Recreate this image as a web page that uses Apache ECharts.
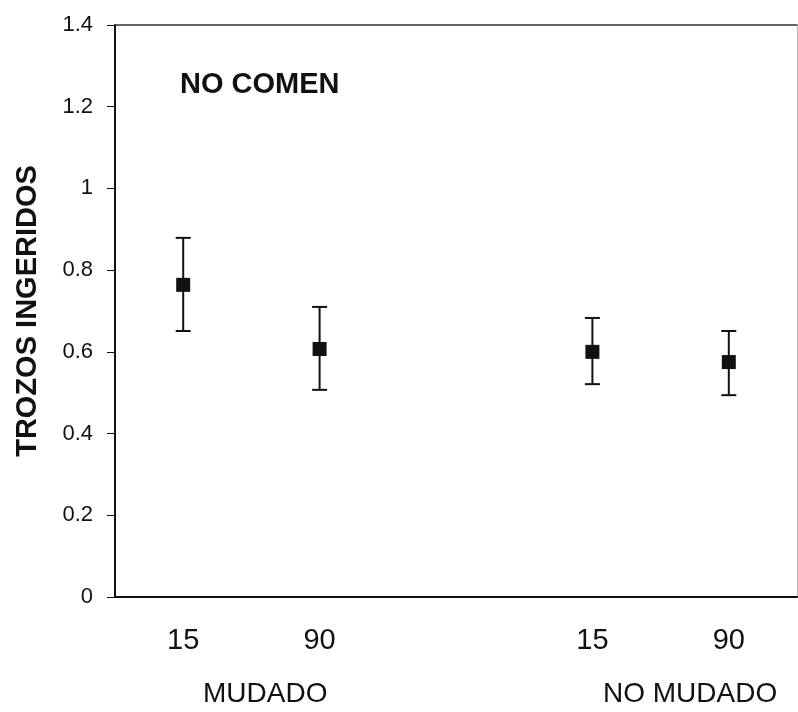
<!DOCTYPE html>
<html>
<head>
<meta charset="utf-8">
<script src="https://cdn.jsdelivr.net/npm/echarts@6/dist/echarts.min.js"></script>
<style>
  html, body { margin: 0; padding: 0; background: #fff; }
  #chart { width: 798px; height: 712px; }
</style>
</head>
<body>
<div id="chart"></div>
<script>
// Days after molt, with an empty slot separating the two groups
const categories = ['15', '90', '', '15', '90'];
const groupLabels = ['MUDADO', 'NO MUDADO'];
// Mean pieces ingested and the error-bar limits for each day
const means = [0.764, 0.607, null, 0.600, 0.575];
const upper = [0.879, 0.710, null, 0.683, 0.651];
const lower = [0.651, 0.507, null, 0.521, 0.494];
const yTicks = [0, 0.2, 0.4, 0.6, 0.8, 1, 1.2, 1.4];

const FONT = '"Liberation Sans", Arial, sans-serif';
const INK = '#111';

const errData = [];
categories.forEach((c, i) => {
  if (means[i] != null) errData.push([i, lower[i], upper[i]]);
});
const pointData = [];
categories.forEach((c, i) => {
  if (means[i] != null) pointData.push([i, means[i]]);
});

const chart = echarts.init(document.getElementById('chart'), null, { renderer: 'canvas' });

const yMin = yTicks[0];
const yMax = yTicks[yTicks.length - 1];

chart.setOption({
  backgroundColor: '#fff',
  animation: false,
  grid: { left: 115, right: 1, top: 25, bottom: 115 },
  xAxis: [
    {
      type: 'category',
      data: categories,
      boundaryGap: true,
      axisLine: { show: true, onZero: false, lineStyle: { color: INK, width: 2 } },
      axisTick: { show: false },
      axisLabel: { color: INK, fontFamily: FONT, fontSize: 29, margin: 29 },
      splitLine: { show: false }
    },
    {
      // frame line along the top of the plot
      type: 'category',
      position: 'top',
      data: categories,
      boundaryGap: true,
      axisLine: { show: true, onZero: false, lineStyle: { color: '#333', width: 1.5 } },
      axisTick: { show: false },
      axisLabel: { show: false }
    }
  ],
  yAxis: [
    {
      type: 'value',
      min: yMin,
      max: yMax,
      interval: 0.2,
      name: 'TROZOS INGERIDOS',
      nameLocation: 'middle',
      nameGap: 73,
      nameRotate: 90,
      nameTextStyle: { color: INK, fontFamily: FONT, fontSize: 29, fontWeight: 'bold' },
      axisLine: { show: true, onZero: false, lineStyle: { color: INK, width: 2 } },
      axisTick: { show: true, inside: false, length: 8, lineStyle: { color: INK, width: 1 } },
      axisLabel: {
        color: INK, fontFamily: FONT, fontSize: 22, margin: 22,
        formatter: v => String(Math.round(v * 10) / 10)
      },
      splitLine: { show: false }
    },
    {
      // faint frame line on the right edge
      type: 'value',
      position: 'right',
      min: yMin,
      max: yMax,
      interval: 0.2,
      axisLine: { show: true, onZero: false, lineStyle: { color: '#bbb', width: 1 } },
      axisTick: { show: false },
      axisLabel: { show: false },
      splitLine: { show: false }
    }
  ],
  series: [
    {
      type: 'custom',
      data: errData,
      z: 3,
      renderItem: (params, api) => {
        const x = api.value(0);
        const lo = api.coord([x, api.value(1)]);
        const hi = api.coord([x, api.value(2)]);
        const half = 7.5;
        const style = { stroke: INK, lineWidth: 2 };
        return {
          type: 'group',
          children: [
            { type: 'line', shape: { x1: lo[0], y1: lo[1], x2: hi[0], y2: hi[1] }, style },
            { type: 'line', shape: { x1: hi[0] - half, y1: hi[1], x2: hi[0] + half, y2: hi[1] }, style },
            { type: 'line', shape: { x1: lo[0] - half, y1: lo[1], x2: lo[0] + half, y2: lo[1] }, style }
          ]
        };
      }
    },
    {
      type: 'scatter',
      data: pointData,
      symbol: 'rect',
      symbolSize: 14,
      z: 4,
      itemStyle: { color: INK, opacity: 1 }
    }
  ],
  graphic: [
    {
      type: 'text', left: 180, top: 70,
      style: { text: 'NO COMEN', fill: INK, font: 'bold 29px ' + FONT }
    },
    {
      type: 'text', left: 203, top: 680,
      style: { text: groupLabels[0], fill: INK, font: '28px ' + FONT }
    },
    {
      type: 'text', left: 603, top: 680,
      style: { text: groupLabels[1], fill: INK, font: '28px ' + FONT }
    }
  ]
});
</script>
</body>
</html>
